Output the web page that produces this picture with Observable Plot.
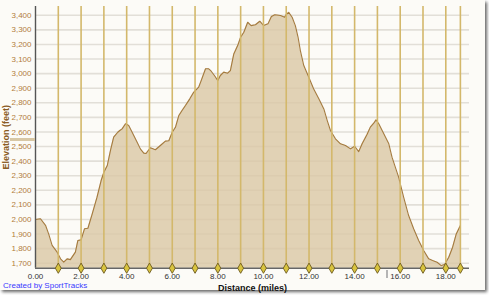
<!DOCTYPE html>
<html>
<head>
<meta charset="utf-8">
<script src="https://cdn.jsdelivr.net/npm/d3@7"></script>
<script src="https://cdn.jsdelivr.net/npm/@observablehq/plot@0.6"></script>
<style>
  html, body { margin: 0; padding: 0; background: #ffffff; }
  #wrap { position: relative; width: 489px; height: 295px; overflow: hidden; }
  #card { position: absolute; left: 0; top: 0; width: 485px; height: 290px; background: #fcfbf7;
          box-shadow: 2px 2px 3px #6a6a6a; }
  #chart { position: absolute; left: 0; top: 0; }
  #chart svg { font-family: "Liberation Sans", Arial, sans-serif; }
  #caption { position: absolute; left: 3px; top: 281px; font: 8px "Liberation Sans", Arial, sans-serif; color: #3a3aff; }
  #grip { position: absolute; left: 10px; top: 138px; width: 25px; height: 3px; background: #d8c7a4; }
  #mark { position: absolute; left: 386px; top: 270px; width: 2px; height: 8px; background: #b5b5b5; }
  [aria-label="x-axis label"] text { font-weight: bold; font-size: 9px; fill: #111; }
  [aria-label="y-axis label"] text { font-weight: bold; font-size: 9px; fill: #8a5a22; }
</style>
</head>
<body>
<div id="wrap">
  <div id="card"></div>
  <div id="chart"></div>
  <div id="grip"></div>
  <div id="mark"></div>
  <div id="caption">Created by SportTracks</div>
</div>
<script>
// Elevation profile
const miles = [0, 0.22, 0.44, 0.58, 0.73, 0.95, 1.1, 1.24, 1.39, 1.53, 1.75, 1.86, 2.0, 2.15, 2.3, 2.49, 2.7, 2.88, 3.0, 3.15,
  3.29, 3.43, 3.61, 3.7, 3.8, 3.95, 4.09, 4.24, 4.46, 4.6, 4.75, 4.85, 5.04, 5.26, 5.48, 5.7, 5.85, 6.0, 6.14, 6.29,
  6.43, 6.58, 6.77, 6.94, 7.16, 7.27, 7.46, 7.6, 7.7, 7.85, 8.0, 8.11, 8.26, 8.43, 8.55, 8.7, 8.87, 9.0, 9.14, 9.31,
  9.46, 9.65, 9.84, 10.01, 10.2, 10.35, 10.5, 10.75, 10.93, 11.0, 11.11, 11.26, 11.4, 11.52, 11.62, 11.77, 11.99, 12.2, 12.43, 12.65,
  12.8, 12.94, 13.16, 13.38, 13.6, 13.82, 14.0, 14.18, 14.33, 14.55, 14.69, 14.84, 14.94, 15.06, 15.28, 15.5, 15.64, 15.93, 16.15, 16.37,
  16.59, 16.81, 17.03, 17.25, 17.42, 17.62, 17.8, 17.95, 18.13, 18.3, 18.46, 18.64];
const elevation = [2000, 2005, 1960, 1900, 1822, 1776, 1730, 1707, 1730, 1725, 1776, 1856, 1860, 1936, 1940, 2039, 2153, 2267, 2324, 2370,
  2473, 2564, 2598, 2610, 2621, 2656, 2644, 2598, 2530, 2484, 2455, 2452, 2492, 2478, 2507, 2537, 2540, 2598, 2632, 2713,
  2747, 2781, 2827, 2872, 2907, 2952, 3033, 3033, 3018, 2987, 2952, 2987, 3010, 3003, 3021, 3135, 3192, 3249, 3283, 3352,
  3329, 3335, 3359, 3329, 3341, 3391, 3403, 3398, 3386, 3405, 3420, 3386, 3329, 3249, 3158, 3055, 2975, 2896, 2827, 2758,
  2678, 2610, 2553, 2519, 2507, 2484, 2502, 2465, 2519, 2584, 2633, 2660, 2683, 2656, 2587, 2519, 2427, 2290, 2153, 2027,
  1936, 1856, 1787, 1730, 1719, 1707, 1684, 1691, 1741, 1810, 1901, 1959];
// Mile markers (vertical lines with diamonds), including the end of the track
const mileMarkers = [1, 2, 3, 4, 5, 6, 7, 8, 9, 10, 11, 12, 13, 14, 15, 16, 17, 18, 18.64];
const xTicks = [0, 2, 4, 6, 8, 10, 12, 14, 16, 18];
const yTicks = [1700, 1800, 1900, 2000, 2100, 2200, 2300, 2400, 2500, 2600, 2700, 2800, 2900, 3000, 3100, 3200, 3300, 3400];
const xDomain = [0, 19.04];
const yDomain = [1666, 3460];

const data = miles.map((m, i) => ({mile: m, elev: elevation[i]}));

const chart = Plot.plot({
  width: 489,
  height: 295,
  marginLeft: 35,
  marginRight: 20,
  marginTop: 6,
  marginBottom: 27.3,
  style: {background: "transparent", overflow: "visible"},
  x: {domain: xDomain},
  y: {domain: yDomain},
  marks: [
    Plot.ruleY(yTicks, {stroke: "#e2dfd8", strokeWidth: 1.6}),
    Plot.areaY(data, {x: "mile", y1: yDomain[0], y2: "elev", fill: "#dbc8a6", fillOpacity: 0.82}),
    Plot.line(data, {x: "mile", y: "elev", stroke: "#a47a3e", strokeWidth: 1.1}),
    Plot.ruleX(mileMarkers, {y1: yDomain[0], y2: yDomain[1], stroke: "#d3b86b", strokeWidth: 1.6}),
    Plot.ruleX([0], {y1: yDomain[0], y2: yDomain[1], stroke: "#555", strokeWidth: 1.4}),
    Plot.ruleY([yDomain[0]], {stroke: "#666", strokeWidth: 1.4}),
    Plot.dot(mileMarkers, {x: d => d, y: yDomain[0], symbol: "diamond", r: 3.1, fill: "#d9c43f", stroke: "#6d5a1e", strokeWidth: 0.9}),
    Plot.axisY({ticks: yTicks, tickSize: 0, tickPadding: 4, tickFormat: d3.format(","),
      fill: "#b27c3c", fontSize: 8, label: "Elevation (feet)", labelAnchor: "center", labelArrow: "none", labelOffset: 33}),
    Plot.axisX({ticks: xTicks, tickSize: 0, tickPadding: 5, tickFormat: d3.format(".2f"),
      fill: "#333", fontSize: 8, label: "Distance (miles)", labelAnchor: "center", labelArrow: "none", labelOffset: 23})
  ]
});
document.getElementById("chart").appendChild(chart);
</script>
</body>
</html>
